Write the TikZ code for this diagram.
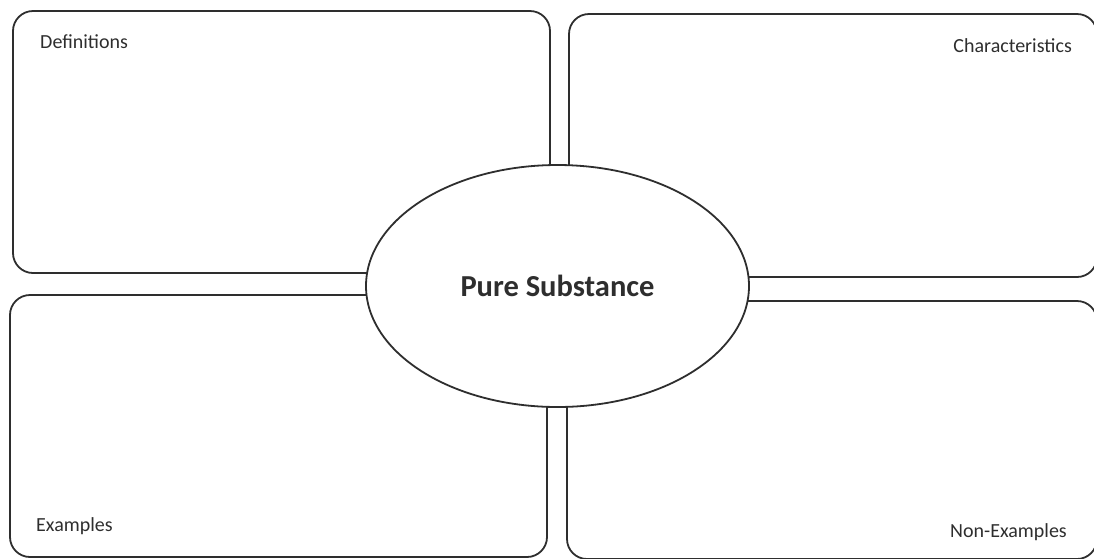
\documentclass[tikz,border=0pt]{standalone}
\usepackage{fontspec}
\setmainfont{Carlito}
\usetikzlibrary{shapes.geometric}
\definecolor{ink}{HTML}{2E2E2E}
\tikzset{
  panel/.style={draw=ink, line width=1.8pt, rounded corners=20pt},
  label/.style={text=ink, font=\fontsize{20}{22}\selectfont, inner sep=0pt},
  hub/.style={draw=ink, fill=white, line width=1.8pt, ellipse, minimum width=383pt, minimum height=242pt, inner sep=0pt, font=\bfseries\fontsize{30.5}{34}\selectfont, text=ink}
}
\begin{document}
\begin{tikzpicture}[x=1pt,y=-1pt]
\useasboundingbox (0,0) rectangle (1094,558);
\begin{scope}
\clip (0,0) rectangle (1094,558);
\draw[panel] (13,11) rectangle (550,273);
\draw[panel] (569,14) rectangle (1097,277);
\draw[panel] (10,295) rectangle (547,557);
\draw[panel] (567,301) rectangle (1097,559);
\end{scope}
\node[hub] (hub) at (557.5,286) {Pure Substance};
\node[label, anchor=base west] (def) at (40,48) {Definitions};
\node[label, anchor=base east] (char) at (1072,52) {Characteristics};
\node[label, anchor=base west] (ex) at (36,531) {Examples};
\node[label, anchor=base east] (nonex) at (1067,537) {Non-Examples};
\end{tikzpicture}
\end{document}
